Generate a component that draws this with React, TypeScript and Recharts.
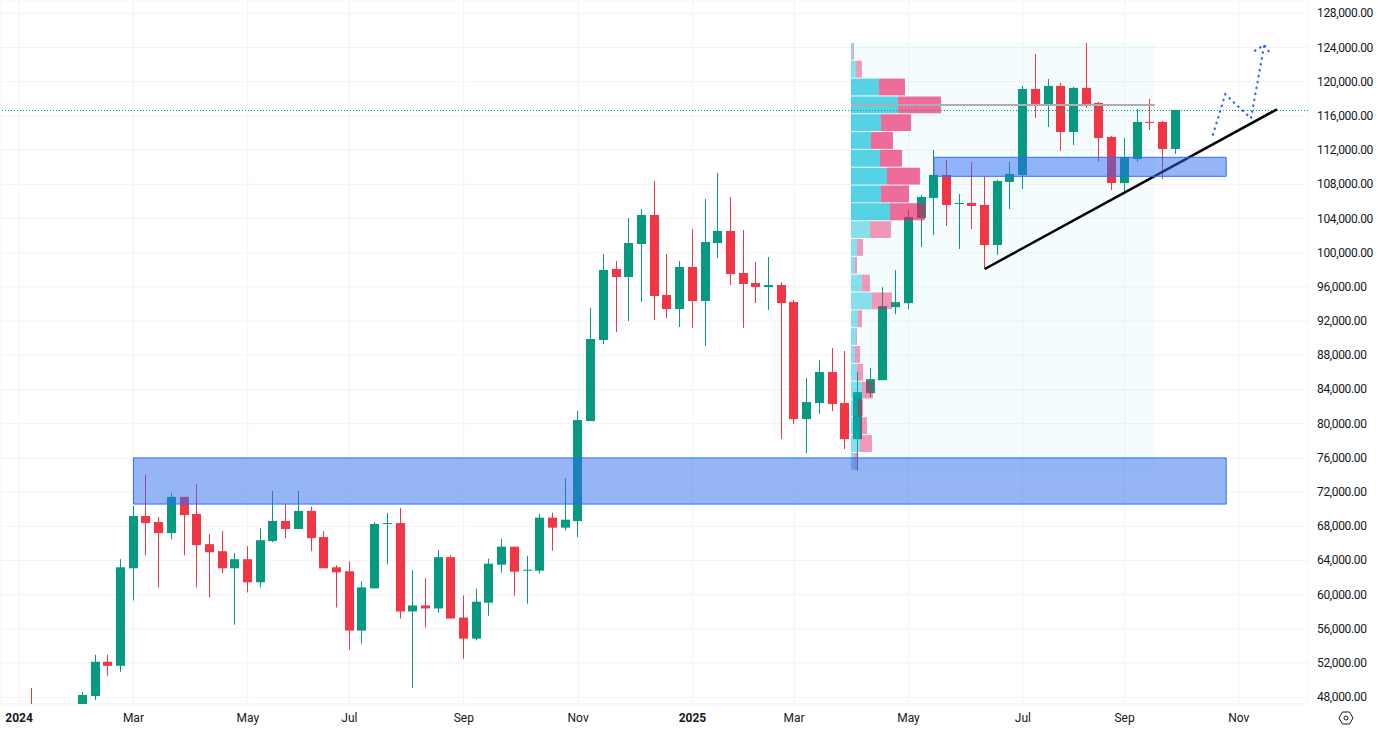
import { Bar, CartesianGrid, ComposedChart, Line, ReferenceArea, ReferenceLine, XAxis, YAxis } from 'recharts';

const GREEN = '#089981';
const RED = '#f23645';
const TEXT = '#131722';
const FONT = 'Roboto, sans-serif';

// weekly candles, first one is the week of Jan 1 2024
const opens = [
  42200, 43900, 41700, 41600, 41800, 42600, 48157, 52155, 51685, 63090,
  69210, 68500, 67210, 71440, 69440, 65910, 65090, 63090, 64150, 61450,
  66270, 68620, 67680, 69800, 66740, 63210, 62740, 55800, 60740, 68270,
  68380, 58040, 58740, 58390, 64390, 57330, 54860, 59064, 63510, 65616,
  62808, 62808, 69009, 67839, 68610, 80310, 89787, 98094, 97158, 101019,
  104412, 95052, 93414, 98328, 94350, 101136, 102540, 97626, 96456, 95988,
  96222, 94233, 80544, 82416, 86043, 82416, 78189, 83571, 85092, 93633,
  94101, 104061, 106401, 109092, 105699, 105816, 105582, 100902, 108273, 109092,
  119154, 117399, 119505, 114123, 119271, 117516, 113538, 108156, 110964, 115293,
  115293, 112134,
];
const highs = [
  45900, 49098, 43500, 42800, 43800, 48630, 52980, 52980, 64150, 70380,
  74030, 69090, 71910, 71440, 72970, 67090, 67440, 64860, 65680, 67800,
  72150, 70620, 72150, 70270, 67440, 63440, 63915, 61560, 68500, 69560,
  70150, 62860, 61920, 65210, 64620, 59920, 60702, 64212, 66552, 65616,
  64563, 69477, 69594, 73641, 81480, 93531, 99849, 99030, 104061, 105114,
  108390, 99849, 99030, 102774, 106284, 109326, 106518, 102657, 98913, 99498,
  96573, 94467, 85341, 87447, 88851, 88500, 86028, 86496, 95973, 97962,
  104997, 106752, 112017, 110847, 106869, 110613, 108897, 108507, 110613, 119505,
  123249, 120324, 119856, 119388, 124536, 117633, 113655, 113421, 116814, 117984,
  115410, 116697,
];
const lows = [
  40800, 41500, 40300, 38500, 41100, 42300, 47686, 50510, 50980, 59330,
  64620, 60860, 66500, 64620, 60860, 59680, 62500, 56500, 60270, 60860,
  66150, 66620, 67680, 65090, 63090, 58500, 53570, 54270, 60740, 63560,
  57210, 49100, 56150, 57920, 57210, 52510, 54657, 57543, 62574, 59883,
  58947, 62457, 65148, 67488, 66738, 80310, 89319, 90723, 92010, 94233,
  92127, 92361, 91308, 91191, 89085, 99381, 96222, 91191, 94116, 93297,
  78204, 79959, 76566, 81129, 81480, 77034, 74484, 83103, 85092, 92814,
  93399, 100668, 102072, 103125, 100434, 102774, 98094, 99732, 105114, 107454,
  115761, 114708, 111900, 112602, 116931, 110613, 107337, 107103, 110613, 114357,
  108624, 111549,
];
const closes = [
  43900, 41700, 41600, 41800, 42600, 48270, 52155, 51685, 63210, 69210,
  68380, 67210, 71440, 69325, 65800, 64970, 63090, 64150, 61450, 66380,
  68620, 67680, 69800, 66620, 63090, 62620, 55800, 60860, 68270, 68380,
  58040, 58740, 58390, 64390, 57210, 54860, 59181, 63627, 65616, 62691,
  62925, 69009, 67839, 68775, 80427, 89904, 97977, 97158, 101136, 104412,
  94935, 93414, 98328, 94350, 101253, 102540, 97509, 96339, 95988, 96222,
  94116, 80544, 82533, 86043, 82299, 78204, 83688, 85209, 93750, 94218,
  104178, 106518, 109092, 105582, 105816, 105465, 100902, 108390, 109209, 119154,
  117399, 119505, 114123, 119271, 117399, 113421, 108156, 111198, 115293, 115176,
  112134, 116697,
];

const candles = opens.map((open, i) => ({
  week: i,
  open,
  close: closes[i],
  high: highs[i],
  low: lows[i],
}));

const priceTicks = [
  48000, 52000, 56000, 60000, 64000, 68000, 72000, 76000, 80000, 84000, 88000,
  92000, 96000, 100000, 104000, 108000, 112000, 116000, 120000, 124000, 128000,
];
const timeTicks = [0, 9, 18, 26, 35, 44, 53, 61, 70, 79, 87, 96];
const timeLabels = ['2024', 'Mar', 'May', 'Jul', 'Sep', 'Nov', '2025', 'Mar', 'May', 'Jul', 'Sep', 'Nov'];

// volume profile, top row first
const profileUp = [1.7, 5, 28, 47, 30, 20, 29, 36, 30, 39, 19, 6, 4, 11, 21, 7, 5, 4, 6, 11, 7, 9, 9, 3];
const profileDown = [1.3, 6, 26, 43, 30, 22, 22, 33, 28, 35, 21, 6, 2, 8, 20, 4, 1, 5, 6, 11, 5, 7, 12, 4];
const PROFILE_TOP = 124536;
const PROFILE_STEP = 2085;
const PROFILE_START = 65.47;
const PROFILE_END = 89.4;
const PROFILE_UNITS_PER_WEEK = 12.707;
const POC_PRICE = 117282;
const LAST_PRICE = 116632;

const trendStart = { week: 76, price: 98094 };
const trendEnd = { week: 99, price: 116772 };

const forecastPath = [
  { week: 93.96, price: 113801 },
  { week: 94.93, price: 118526 },
  { week: 96.95, price: 115719 },
  { week: 98.0, price: 124292 },
];
const forecastHead = [
  { week: 97.27, price: 123626 },
  { week: 98.0, price: 124292 },
  { week: 98.58, price: 123088 },
];

const Candle = (props: any) => {
  const { x, y, width, height, payload } = props;
  const color = payload.close >= payload.open ? GREEN : RED;
  const perDollar = height / (payload.high - payload.low);
  const top = y + (payload.high - Math.max(payload.open, payload.close)) * perDollar;
  const bodyHeight = Math.max(Math.abs(payload.open - payload.close) * perDollar, 1);
  const mid = Math.floor(x + width / 2);
  return (
    <g>
      <rect x={mid} y={y} width={1} height={height} fill={color} />
      <rect x={mid - 4} y={top} width={9} height={bodyHeight} fill={color} />
    </g>
  );
};

const TimeTick = (props: any) => {
  const { x, y, index } = props;
  const label = timeLabels[index];
  const isYear = label.length === 4;
  return (
    <text x={x} y={y + 10} textAnchor="middle" fill={TEXT} fontSize={12} fontFamily={FONT} fontWeight={isYear ? 700 : 400}>
      {label}
    </text>
  );
};

const PriceTick = (props: any) => {
  const { x, y, payload } = props;
  return (
    <text x={x + 3} y={y + 4} fill={TEXT} fontSize={12} fontFamily={FONT} letterSpacing={-0.35}>
      {payload.value.toLocaleString('en-US', { minimumFractionDigits: 2 })}
    </text>
  );
};

const App = () => {
  return (
    <div style={{ position: 'absolute', left: 0, top: 0, width: 1381, height: 729, background: '#fff' }}>
      <ComposedChart
        width={1381}
        height={729}
        data={candles}
        margin={{ top: 0, right: 0, bottom: 0, left: 0 }}
        style={{ fontFamily: FONT }}
      >
        <CartesianGrid stroke="#f2f3f5" />
        <XAxis
          dataKey="week"
          type="number"
          domain={[-1.5, 101.44]}
          allowDataOverflow
          ticks={timeTicks}
          interval={0}
          height={25}
          axisLine={false}
          tickLine={false}
          tick={TimeTick}
        />
        <YAxis
          orientation="right"
          type="number"
          domain={[47216, 129556]}
          allowDataOverflow
          ticks={priceTicks}
          interval={0}
          width={73}
          axisLine={false}
          tickLine={false}
          tickMargin={0}
          tick={PriceTick}
        />
        <ReferenceArea
          x1={PROFILE_START}
          x2={PROFILE_END}
          y1={PROFILE_TOP}
          y2={PROFILE_TOP - profileUp.length * PROFILE_STEP}
          fill="#00b8f0"
          fillOpacity={0.045}
          stroke="none"
        />
        <Bar
          dataKey={(d: any) => [d.low, d.high]}
          barSize={9}
          shape={Candle}
          isAnimationActive={false}
        />
        {profileUp.map((up, row) => {
          const inValueArea = row >= 2 && row <= 9;
          const y1 = PROFILE_TOP - row * PROFILE_STEP;
          const y2 = y1 - PROFILE_STEP + 117;
          const upEnd = PROFILE_START + up / PROFILE_UNITS_PER_WEEK;
          const downEnd = upEnd + profileDown[row] / PROFILE_UNITS_PER_WEEK;
          return [
            <ReferenceArea
              key={`up-${row}`}
              x1={PROFILE_START}
              x2={upEnd}
              y1={y1}
              y2={y2}
              fill="#00bcd4"
              fillOpacity={inValueArea ? 0.65 : 0.45}
              stroke="none"
              zIndex={600}
            />,
            <ReferenceArea
              key={`down-${row}`}
              x1={upEnd}
              x2={downEnd}
              y1={y1}
              y2={y2}
              fill="#e91e63"
              fillOpacity={inValueArea ? 0.65 : 0.45}
              stroke="none"
              zIndex={600}
            />,
          ];
        })}
        <ReferenceLine
          segment={[{ x: PROFILE_START, y: POC_PRICE }, { x: PROFILE_END, y: POC_PRICE }]}
          stroke="#aab0b2"
          strokeWidth={2}
          zIndex={610}
        />
        <ReferenceLine y={LAST_PRICE} stroke={GREEN} strokeWidth={1} strokeDasharray="1 2" zIndex={620} />
        <ReferenceLine
          segment={[{ x: trendStart.week, y: trendStart.price }, { x: trendEnd.week, y: trendEnd.price }]}
          stroke="#000000"
          strokeWidth={2.5}
          zIndex={630}
        />
        <ReferenceArea x1={9} x2={95} y1={76000} y2={70600} fill="#2b6bf0" fillOpacity={0.5} stroke="#2f6ef5" strokeWidth={1} zIndex={640} />
        <ReferenceArea x1={72} x2={95} y1={111159} y2={108936} fill="#2b6bf0" fillOpacity={0.5} stroke="#2f6ef5" strokeWidth={1} zIndex={640} />
        <Line
          data={forecastPath}
          dataKey="price"
          stroke="#2962ff"
          strokeWidth={2.2}
          strokeDasharray="0.5 5.5"
          strokeLinecap="round"
          dot={false}
          activeDot={false}
          legendType="none"
          isAnimationActive={false}
          zIndex={650}
        />
        <Line
          data={forecastHead}
          dataKey="price"
          stroke="#2962ff"
          strokeWidth={2.2}
          strokeDasharray="0.5 5.5"
          strokeLinecap="round"
          dot={false}
          activeDot={false}
          legendType="none"
          isAnimationActive={false}
          zIndex={650}
        />
      </ComposedChart>
      <svg width={20} height={20} style={{ position: 'absolute', left: 1336, top: 708 }} viewBox="0 0 20 20">
        <polygon points="3,10 6.5,4 13.5,4 17,10 13.5,16 6.5,16" fill="none" stroke={TEXT} strokeWidth={1} />
        <circle cx={10} cy={10} r={2} fill="none" stroke={TEXT} strokeWidth={1} />
      </svg>
    </div>
  );
};

export default App;
